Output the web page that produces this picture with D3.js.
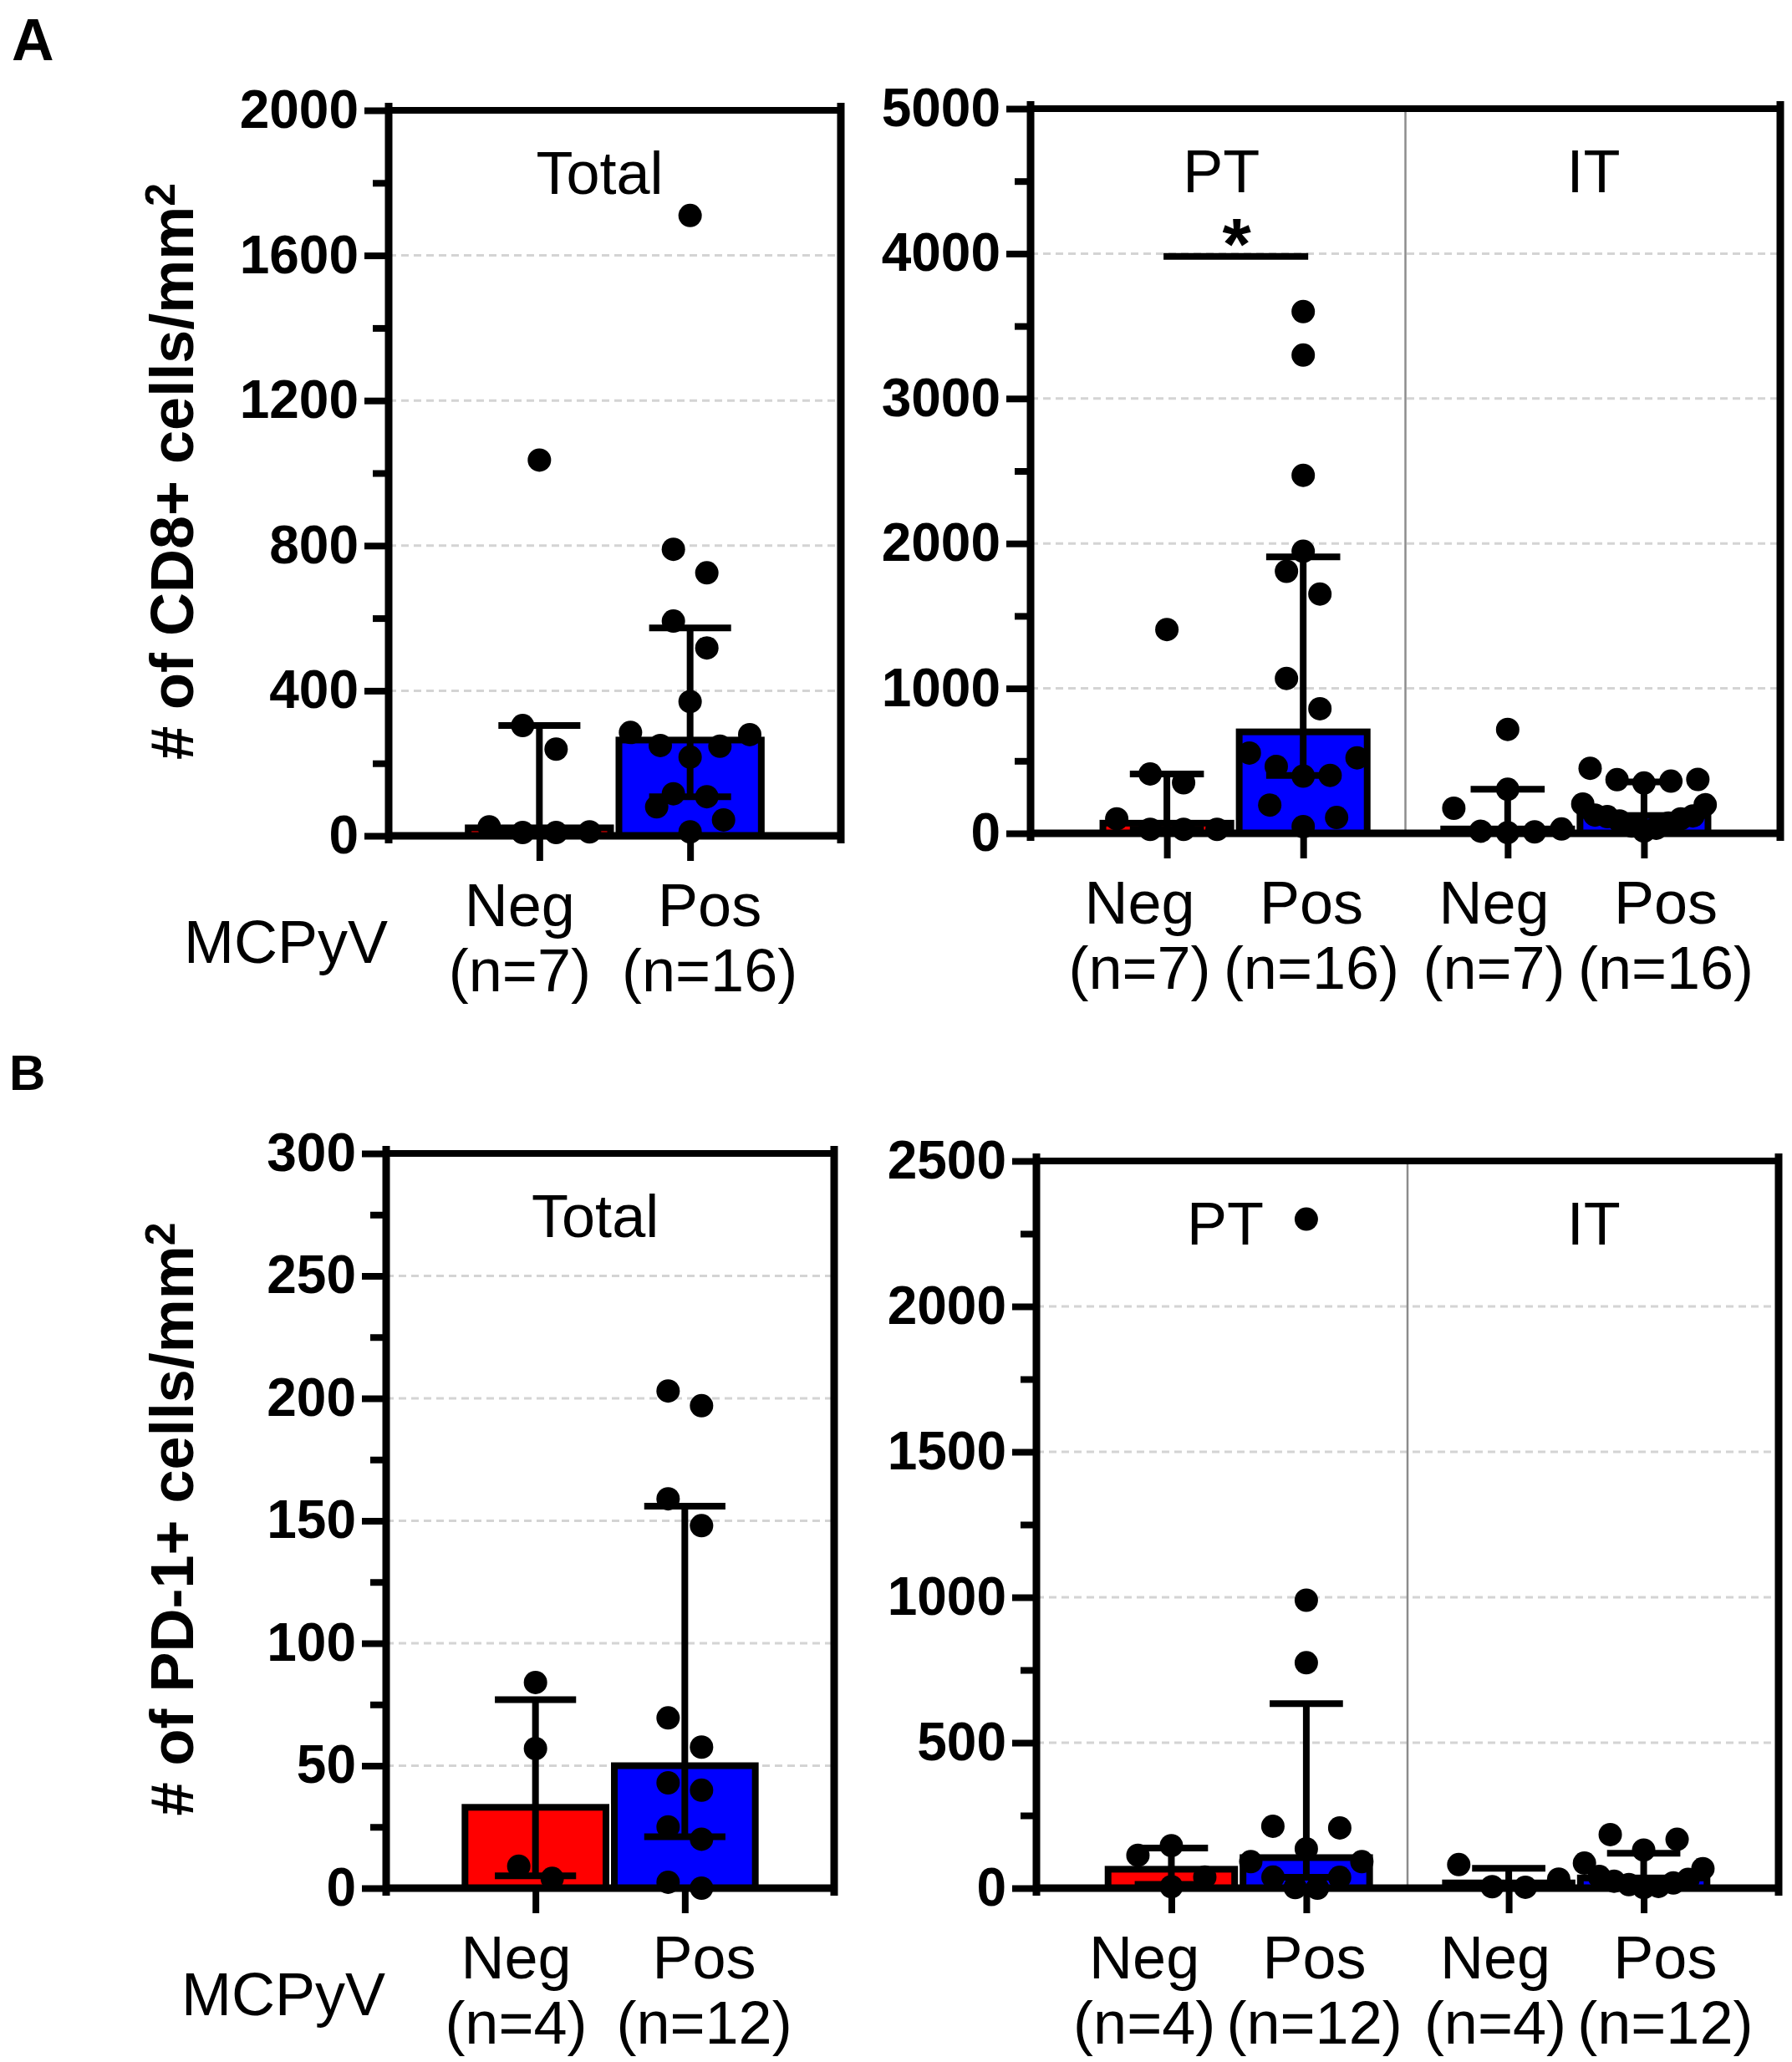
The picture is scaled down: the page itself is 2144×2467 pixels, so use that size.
<!DOCTYPE html>
<html>
<head>
<meta charset="utf-8">
<script src="https://cdn.jsdelivr.net/npm/d3@7"></script>
<style>
  body { margin: 0; background: #fff; }
</style>
</head>
<body>
<script>
// ---- data ----
const groups = ["Neg", "Pos"];
const nLabelsA = ["(n=7)", "(n=16)"];
const nLabelsB = ["(n=4)", "(n=12)"];
const groupColors = ["#ff0000", "#0000ff"];

// A: CD8+ cells/mm2
const cd8TotalNeg = [1036, 304, 239, 25, 11, 9, 9];
const cd8TotalPos = [1710, 790, 725, 592, 518, 370, 285, 279, 249, 247, 217, 116, 108, 80, 44, 11];
const cd8TotalMedian = [22, 264];
const cd8TotalQ1 = [9, 108];
const cd8TotalQ3 = [304, 573];

const cd8PTNeg = [1406, 410, 349, 100, 27, 27, 27];
const cd8PTPos = [3600, 3300, 2470, 1946, 1808, 1651, 1069, 860, 554, 521, 462, 400, 395, 195, 109, 46];
const cd8PTMedian = [70, 700];
const cd8PTQ1 = [27, 400];
const cd8PTQ3 = [410, 1908];

const cd8ITNeg = [717, 304, 173, 30, 15, 10, 5];
const cd8ITPos = [449, 372, 370, 360, 347, 202, 197, 126, 120, 115, 100, 85, 70, 50, 35, 15];
const cd8ITMedian = [30, 123];
const cd8ITQ1 = [8, 74];
const cd8ITQ3 = [304, 355];

// B: PD-1+ cells/mm2
const pd1TotalNeg = [84, 57, 9, 4];
const pd1TotalPos = [203, 197, 159, 148, 69.5, 57.6, 43, 40, 25, 20, 2.4, 0];
const pd1TotalMedian = [33, 50];
const pd1TotalQ1 = [5, 21];
const pd1TotalQ3 = [77, 156];

const pd1PTNeg = [146, 113, 38, 5];
const pd1PTPos = [2300, 990, 775, 213, 207, 135, 91, 91, 38, 37, 2, 0];
const pd1PTMedian = [65, 105];
const pd1PTQ1 = [13, 37];
const pd1PTQ3 = [138, 634];

const pd1ITNeg = [81, 31, 5, 3];
const pd1ITPos = [184, 168, 131, 86, 67, 40, 30, 24, 18, 12, 6, 2];
const pd1ITMedian = [18, 35];
const pd1ITQ1 = [3.5, 13.5];
const pd1ITQ3 = [68, 120];

const cd8TotalTicks = [0, 400, 800, 1200, 1600, 2000];
const cd8RegionTicks = [0, 1000, 2000, 3000, 4000, 5000];
const pd1TotalTicks = [0, 50, 100, 150, 200, 250, 300];
const pd1RegionTicks = [0, 500, 1000, 1500, 2000, 2500];

const sigLabel = "*";
const sigValue = 3980;

// ---- drawing ----
const FONT = "'Liberation Sans', Arial, Helvetica, sans-serif";
const W = 2144, H = 2467;
const DOT_R = 14;
const DOT_STEP = 40;   // horizontal spacing of dots in one row
const ROW_H = 40;      // dots within this many px share a row

const svg = d3.select("body").append("svg")
  .attr("width", W)
  .attr("height", H)
  .attr("font-family", FONT);

// Prism-like scatter: bin dots into rows, spread each row, larger values outside
function layoutDots(values, y, cx, barW) {
  const pts = values.map(v => ({ v, py: y(v) })).sort((a, b) => a.v - b.v);
  const rows = [];
  let row = null;
  pts.forEach(p => {
    if (!row || row.py0 - p.py > ROW_H) {
      row = { py0: p.py, items: [] };
      rows.push(row);
    }
    row.items.push(p);
  });
  rows.forEach(r => {
    const n = r.items.length;
    const step = Math.min(DOT_STEP, barW / n);
    const order = [];
    for (let i = 0, j = n - 1; i <= j; i++, j--) {
      order.push(i);
      if (j !== i) order.push(j);
    }
    r.items.sort((a, b) => b.v - a.v)
      .forEach((p, k) => { p.px = cx + (order[k] - (n - 1) / 2) * step; });
  });
  return pts;
}

function drawPanel(o) {
  const g = svg.append("g");
  const x = d3.scaleLinear().domain([0, o.xMax]).range([o.x0, o.x1]);
  const y = d3.scaleLinear().domain([0, o.yMax]).range([o.yZero, o.yTop]);
  const unit = x(1) - x(0);
  const barW = unit - 2;

  // dashed gridlines
  g.append("g").selectAll("line")
    .data(o.ticks.filter(t => t > 0 && t < o.yMax))
    .join("line")
    .attr("x1", o.x0).attr("x2", o.x1)
    .attr("y1", d => y(d)).attr("y2", d => y(d))
    .attr("stroke", "#d4d4d4")
    .attr("stroke-width", 3)
    .attr("stroke-dasharray", "9,6");

  if (o.divider != null) {
    g.append("line")
      .attr("x1", x(o.divider)).attr("x2", x(o.divider))
      .attr("y1", o.yTop).attr("y2", o.yZero)
      .attr("stroke", "#8c8c8c")
      .attr("stroke-width", 2.5);
  }

  const centers = [];
  o.series.forEach(s => {
    const cx = x(s.pos);
    centers.push(s.pos);

    g.append("rect")
      .attr("x", cx - barW / 2 + 4)
      .attr("y", y(s.median))
      .attr("width", barW - 8)
      .attr("height", y(0) - y(s.median))
      .attr("fill", s.color)
      .attr("stroke", "#000")
      .attr("stroke-width", 8);

    // median with interquartile range
    const capW = barW * 0.55;
    const eb = g.append("g").attr("stroke", "#000").attr("stroke-width", 8);
    eb.append("line")
      .attr("x1", cx).attr("x2", cx)
      .attr("y1", y(s.q1)).attr("y2", y(s.q3));
    eb.selectAll("line.cap")
      .data([s.q1, s.q3])
      .join("line")
      .attr("class", "cap")
      .attr("x1", cx - capW / 2).attr("x2", cx + capW / 2)
      .attr("y1", d => y(d)).attr("y2", d => y(d));

    g.append("g").selectAll("circle")
      .data(layoutDots(s.values, y, cx, barW))
      .join("circle")
      .attr("cx", d => d.px)
      .attr("cy", d => d.py)
      .attr("r", DOT_R)
      .attr("fill", "#000");
  });

  // frame
  const frame = g.append("g").attr("stroke", "#000");
  frame.append("line")
    .attr("x1", o.x0 - 4).attr("x2", o.x1 + 4)
    .attr("y1", o.yTop).attr("y2", o.yTop)
    .attr("stroke-width", 8);
  frame.append("line")
    .attr("x1", o.x0 - 4).attr("x2", o.x1 + 4)
    .attr("y1", o.yZero).attr("y2", o.yZero)
    .attr("stroke-width", 9);
  [o.x0, o.x1].forEach(xx => {
    frame.append("line")
      .attr("x1", xx).attr("x2", xx)
      .attr("y1", o.yTop - 9).attr("y2", o.yZero + 9)
      .attr("stroke-width", 9);
  });

  // y axis: major ticks with labels, minor ticks between
  const yAxis = g.append("g")
    .attr("transform", `translate(${o.x0},0)`)
    .call(d3.axisLeft(y).tickValues(o.ticks).tickSize(29).tickPadding(7).tickFormat(d3.format("d")));
  yAxis.select(".domain").remove();
  yAxis.attr("font-family", FONT).attr("font-size", 64).attr("font-weight", "bold");
  yAxis.selectAll("line").attr("stroke-width", 8);
  yAxis.selectAll("text").attr("fill", "#000");

  const minor = d3.range(o.minor, o.yMax, o.minor).filter(v => !o.ticks.includes(v));
  const yMinor = g.append("g")
    .attr("transform", `translate(${o.x0},0)`)
    .call(d3.axisLeft(y).tickValues(minor).tickSize(19).tickFormat(""));
  yMinor.select(".domain").remove();
  yMinor.selectAll("line").attr("stroke-width", 8);

  // x ticks under each bar
  const xAxis = g.append("g")
    .attr("transform", `translate(0,${o.yZero})`)
    .call(d3.axisBottom(x).tickValues(centers).tickSize(30).tickFormat(""));
  xAxis.select(".domain").remove();
  xAxis.selectAll("line").attr("stroke-width", 8);

  // section titles
  o.titles.forEach(t => {
    g.append("text")
      .attr("x", x(t.pos))
      .attr("y", o.yTop + 100)
      .attr("text-anchor", "middle")
      .attr("font-size", 72)
      .text(t.text);
  });

  // category labels
  o.labelGroups.forEach(lg => {
    lg.labels.forEach((lab, i) => {
      const lx = x(lg.mid + (i === 0 ? -0.63 : 0.63));
      g.append("text")
        .attr("x", lx).attr("y", o.yZero + 108)
        .attr("text-anchor", "middle")
        .attr("font-size", 72)
        .text(lab);
      g.append("text")
        .attr("x", lx).attr("y", o.yZero + 186)
        .attr("text-anchor", "middle")
        .attr("font-size", 72)
        .text(o.nLabels[i]);
    });
  });

  if (o.rowLabel) {
    g.append("text")
      .attr("x", o.x0 - 1).attr("y", o.yZero + 152)
      .attr("text-anchor", "end")
      .attr("font-size", 72)
      .text(o.rowLabel);
  }

  if (o.yTitle) {
    const t = g.append("text")
      .attr("transform", `translate(231,${(o.yTop + o.yZero) / 2 - 2}) rotate(-90)`)
      .attr("text-anchor", "middle")
      .attr("font-size", 72)
      .attr("font-weight", "bold");
    t.append("tspan").text(o.yTitle);
    t.append("tspan").attr("font-size", 50).attr("dy", -22).text("2");
  }

  if (o.sig) {
    g.append("line")
      .attr("x1", x(o.sig.from) - 4).attr("x2", x(o.sig.to) + 6)
      .attr("y1", y(o.sig.value)).attr("y2", y(o.sig.value))
      .attr("stroke", "#000")
      .attr("stroke-width", 8);
    g.append("text")
      .attr("x", (x(o.sig.from) + x(o.sig.to)) / 2 + 2)
      .attr("y", y(o.sig.value) + 15)
      .attr("text-anchor", "middle")
      .attr("font-size", 88)
      .attr("font-weight", "bold")
      .text(o.sig.label);
  }
}

function pair(neg, pos, med, q1, q3, p0) {
  return [neg, pos].map((vals, i) => ({
    pos: p0 + i, values: vals, median: med[i], q1: q1[i], q3: q3[i], color: groupColors[i]
  }));
}

// A left: total CD8
drawPanel({
  x0: 465, x1: 1006, yTop: 132, yZero: 1000, xMax: 3,
  yMax: 2000, ticks: cd8TotalTicks, minor: 200,
  series: pair(cd8TotalNeg, cd8TotalPos, cd8TotalMedian, cd8TotalQ1, cd8TotalQ3, 1),
  titles: [{ text: "Total", pos: 1.4 }],
  labelGroups: [{ mid: 1.5, labels: groups }],
  nLabels: nLabelsA,
  rowLabel: "MCPyV",
  yTitle: "# of CD8+ cells/mm"
});

// A right: PT / IT CD8
drawPanel({
  x0: 1233, x1: 2130, yTop: 130, yZero: 997, xMax: 5.5, divider: 2.75,
  yMax: 5000, ticks: cd8RegionTicks, minor: 500,
  series: pair(cd8PTNeg, cd8PTPos, cd8PTMedian, cd8PTQ1, cd8PTQ3, 1)
    .concat(pair(cd8ITNeg, cd8ITPos, cd8ITMedian, cd8ITQ1, cd8ITQ3, 3.5)),
  titles: [{ text: "PT", pos: 1.4 }, { text: "IT", pos: 4.13 }],
  labelGroups: [{ mid: 1.43, labels: groups }, { mid: 4.03, labels: groups }],
  nLabels: nLabelsA,
  sig: { from: 1, to: 2, value: sigValue, label: sigLabel }
});

// B left: total PD-1
drawPanel({
  x0: 462, x1: 998, yTop: 1380, yZero: 2259, xMax: 3,
  yMax: 300, ticks: pd1TotalTicks, minor: 25,
  series: pair(pd1TotalNeg, pd1TotalPos, pd1TotalMedian, pd1TotalQ1, pd1TotalQ3, 1),
  titles: [{ text: "Total", pos: 1.4 }],
  labelGroups: [{ mid: 1.5, labels: groups }],
  nLabels: nLabelsB,
  rowLabel: "MCPyV",
  yTitle: "# of PD-1+ cells/mm"
});

// B right: PT / IT PD-1
drawPanel({
  x0: 1240, x1: 2128, yTop: 1389, yZero: 2259, xMax: 5.5, divider: 2.75,
  yMax: 2500, ticks: pd1RegionTicks, minor: 250,
  series: pair(pd1PTNeg, pd1PTPos, pd1PTMedian, pd1PTQ1, pd1PTQ3, 1)
    .concat(pair(pd1ITNeg, pd1ITPos, pd1ITMedian, pd1ITQ1, pd1ITQ3, 3.5)),
  titles: [{ text: "PT", pos: 1.4 }, { text: "IT", pos: 4.13 }],
  labelGroups: [{ mid: 1.43, labels: groups }, { mid: 4.03, labels: groups }],
  nLabels: nLabelsB
});

// panel letters
svg.append("text").attr("x", 14).attr("y", 72)
  .attr("font-size", 70).attr("font-weight", "bold").text("A");
svg.append("text").attr("x", 11).attr("y", 1304)
  .attr("font-size", 60).attr("font-weight", "bold").text("B");
</script>
</body>
</html>
